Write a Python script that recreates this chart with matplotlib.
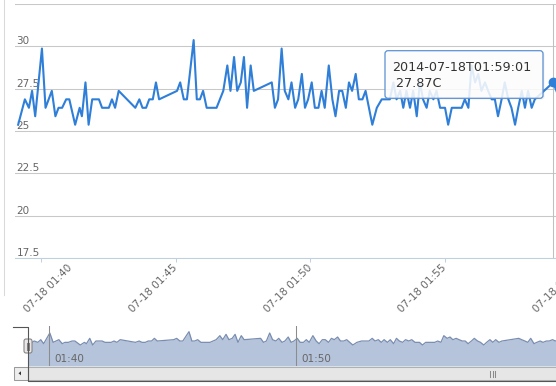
import matplotlib
matplotlib.use("Agg")
import matplotlib.pyplot as plt
from matplotlib.patches import Rectangle, FancyBboxPatch, Polygon
import matplotlib.transforms as mtrans

plt.rcParams['font.family'] = ['DejaVu Sans']

# ---------------- data ----------------
# seconds after 2014-07-18 01:39:00
seconds_after_0139 = [
    9, 24, 33, 40, 47, 62, 70, 84, 92, 99, 107, 116, 123, 136, 146, 151, 159, 166, 174, 189,
    196, 211, 218, 225, 233, 270, 279, 286, 294, 301, 309, 316, 323, 363, 370, 378, 385, 400, 407, 414,
    421, 429, 451, 466, 475, 482, 490, 497, 505, 512, 519, 527, 534, 574, 581, 588, 596, 603, 611, 618,
    626, 633, 641, 648, 655, 663, 670, 678, 685, 692, 701, 709, 716, 724, 731, 739, 746, 753, 761, 768,
    776, 783, 798, 808, 819, 830, 837, 845, 852, 860, 867, 874, 882, 889, 897, 904, 911, 919, 926, 934,
    941, 949, 960, 967, 975, 982, 989, 997, 1004, 1012, 1019, 1027, 1034, 1041, 1049, 1056, 1064, 1071, 1078, 1086,
    1093, 1101, 1108, 1116, 1123, 1131, 1138, 1145, 1153, 1160, 1201,
    1208, 1216, 1223, 1230, 1238, 1245, 1253, 1260, 1268, 1275, 1283, 1290, 1298,
]
temperature_c = [
    25.37, 26.87, 26.37, 27.37, 25.87, 29.87, 26.37, 27.37, 25.87, 26.37, 26.37, 26.87, 26.87, 25.37, 26.37, 25.87, 27.87, 25.37, 26.87, 26.87,
    26.37, 26.37, 26.87, 26.37, 27.37, 26.37, 26.87, 26.37, 26.37, 26.87, 26.87, 27.87, 26.87, 27.37, 27.87, 26.87, 26.87, 30.37, 26.87, 26.87,
    27.37, 26.37, 26.37, 27.37, 28.87, 27.37, 29.37, 27.37, 27.87, 29.37, 26.37, 28.87, 27.37, 27.87, 26.37, 26.87, 29.87, 27.37, 26.87, 27.87,
    26.37, 26.87, 28.37, 26.37, 26.87, 27.87, 26.37, 26.37, 27.37, 26.37, 28.87, 26.87, 25.87, 27.37, 27.37, 26.37, 27.87, 27.37, 28.37, 26.87,
    26.87, 27.37, 25.37, 26.37, 26.87, 26.87, 26.87, 27.87, 26.87, 27.37, 26.37, 27.37, 26.37, 27.37, 25.87, 27.87, 26.87, 26.37, 27.37, 26.87,
    27.37, 26.37, 26.37, 25.37, 26.37, 26.37, 26.37, 26.37, 26.87, 26.37, 28.87, 27.87, 28.37, 27.37, 27.87, 27.37, 26.87, 26.87, 25.87, 26.87,
    27.87, 26.87, 26.37, 25.37, 26.37, 27.37, 26.37, 27.37, 26.37, 26.87, 27.87,
    27.37, 26.87, 26.37, 27.87, 25.87, 26.37, 26.87, 26.37, 26.87, 26.87, 27.37, 26.87, 27.37,
]
assert len(seconds_after_0139) == len(temperature_c)

y_ticks = [17.5, 20, 22.5, 25, 27.5, 30, 32.5]
y_labels = ['17.5', '20', '22.5', '25', '27.5', '30']
x_tick_secs = [60, 360, 660, 960, 1260]
x_tick_labels = ['07-18 01:40', '07-18 01:45', '07-18 01:50', '07-18 01:55', '07-18 02:00']
nav_tick_secs = [60, 660]
nav_tick_labels = ['01:40', '01:50']
hover_index = 130
tooltip_lines = ['2014-07-18T01:59:01', ' 27.87C']

SERIES = '#2f7ed8'
LABEL = '#666666'

# ---------------- figure ----------------
W, H = 556, 386
fig = plt.figure(figsize=(W / 100, H / 100), dpi=100)
fig.patch.set_facecolor('white')


def box(l, t, r, b):
    return [l / W, 1 - b / H, (r - l) / W, (b - t) / H]


# main plot (extends beyond the cropped right edge)
ax = fig.add_axes(box(15, 4, 700, 258))
ax.set_xlim(2, 1528)
ax.set_ylim(17.5, 32.5)
ax.set_facecolor('white')
for s in ['top', 'left', 'right']:
    ax.spines[s].set_visible(False)
ax.spines['bottom'].set_color('#C0D0E0')
ax.spines['bottom'].set_linewidth(0.75)
ax.set_yticks(y_ticks)
ax.tick_params(axis='y', length=0, labelleft=False)
ax.grid(axis='y', color='#C8C8C8', lw=0.75)
ax.set_axisbelow(True)
ax.set_xticks(x_tick_secs)
ax.set_xticklabels(x_tick_labels, rotation=45, ha='right', va='center',
                   rotation_mode='anchor', fontsize=7.5, color=LABEL)
ax.tick_params(axis='x', length=3, width=0.75, color='#C0D0E0', pad=3)
# first label is pushed inside the chart (justified), like the original
first = ax.get_xticklabels()[0]
first.set_transform(first.get_transform() + mtrans.ScaledTranslation(0.30, 0, fig.dpi_scale_trans))

lab_tr = mtrans.offset_copy(ax.get_yaxis_transform(), fig=fig, x=1.5, y=2, units='dots')
for val, lab in zip(y_ticks, y_labels):
    ax.text(0, val, lab, transform=lab_tr, ha='left', va='baseline', fontsize=7.5, color=LABEL)

ax.axvline(seconds_after_0139[hover_index], color='#C0C0C0', lw=0.75, zorder=2)
ax.plot(seconds_after_0139, temperature_c, color=SERIES, lw=1.5, zorder=3,
        solid_joinstyle='round')
ax.plot([seconds_after_0139[hover_index]], [temperature_c[hover_index]], 'o', ms=6,
        color=SERIES, mec=SERIES, zorder=4, clip_on=False)

# navigator
nav = fig.add_axes(box(28, 326, 900, 366))
nav.set_xlim(9, 2127)
nav.set_ylim(17.5, 32.5)
nav.axis('off')
nav.fill_between(seconds_after_0139, temperature_c, 17.5, color='#b5c4db', lw=0)
nav.plot(seconds_after_0139, temperature_c, color='#7a8db0', lw=0.9)
nav_lab_tr = mtrans.offset_copy(nav.get_xaxis_transform(), fig=fig, x=5, y=4, units='dots')
for s, lab in zip(nav_tick_secs, nav_tick_labels):
    nav.axvline(s, color='#8c8c8c', lw=0.75)
    nav.text(s, 0, lab, transform=nav_lab_tr, ha='left', va='baseline', fontsize=7.5, color=LABEL)

# overlay for chrome (pixel coords)
ov = fig.add_axes([0, 0, 1, 1], zorder=10)
ov.set_xlim(0, W)
ov.set_ylim(H, 0)
ov.axis('off')

ov.plot([3.5, 3.5], [0, 295], color='#d9d9d9', lw=0.75)

# scrollbar
ov.add_patch(Rectangle((27.5, 366.5), 600, 13.5, fc='#e6e6e6', ec='#b0b0b0', lw=0.75))
ov.add_patch(Rectangle((13.5, 366.5), 14, 13.5, fc='#ededed', ec='#9a9a9a', lw=0.75))
ov.add_patch(Polygon([(18.5, 373.3), (21.0, 371.3), (21.0, 375.3)], closed=True, fc='#333333', ec='none'))
for gx in (490, 492.5, 495):
    ov.plot([gx, gx], [370.5, 376.5], color='#8a8a8a', lw=0.75)

# navigator outline
ov.plot([13, 28, 28, 556], [326.5, 326.5, 380.5, 380.5], color='#555555', lw=0.8)

# handle
ov.add_patch(FancyBboxPatch((24, 339), 8, 14, boxstyle='round,pad=0,rounding_size=2',
                            fc='#ebe7e8', ec='#808080', lw=0.75))
for hx in (27, 29):
    ov.plot([hx, hx], [342.5, 349.5], color='#808080', lw=0.75)

# tooltip
ov.add_patch(FancyBboxPatch((386.5, 52), 158, 47.6, boxstyle='round,pad=0,rounding_size=3',
                            fc=(0, 0, 0, 0.06), ec='none'))
ov.add_patch(FancyBboxPatch((385, 50.7), 158, 47.6, boxstyle='round,pad=0,rounding_size=3',
                            fc=(1, 1, 1, 0.86), ec='#5a8fd3', lw=0.9))
ov.text(392.5, 70.6, tooltip_lines[0], fontsize=9.2, color='#333333', va='baseline', ha='left')
ov.text(392.5, 86.6, tooltip_lines[1], fontsize=9.2, color='#333333', va='baseline', ha='left')

fig.savefig('out.png', dpi=100, facecolor='white')
